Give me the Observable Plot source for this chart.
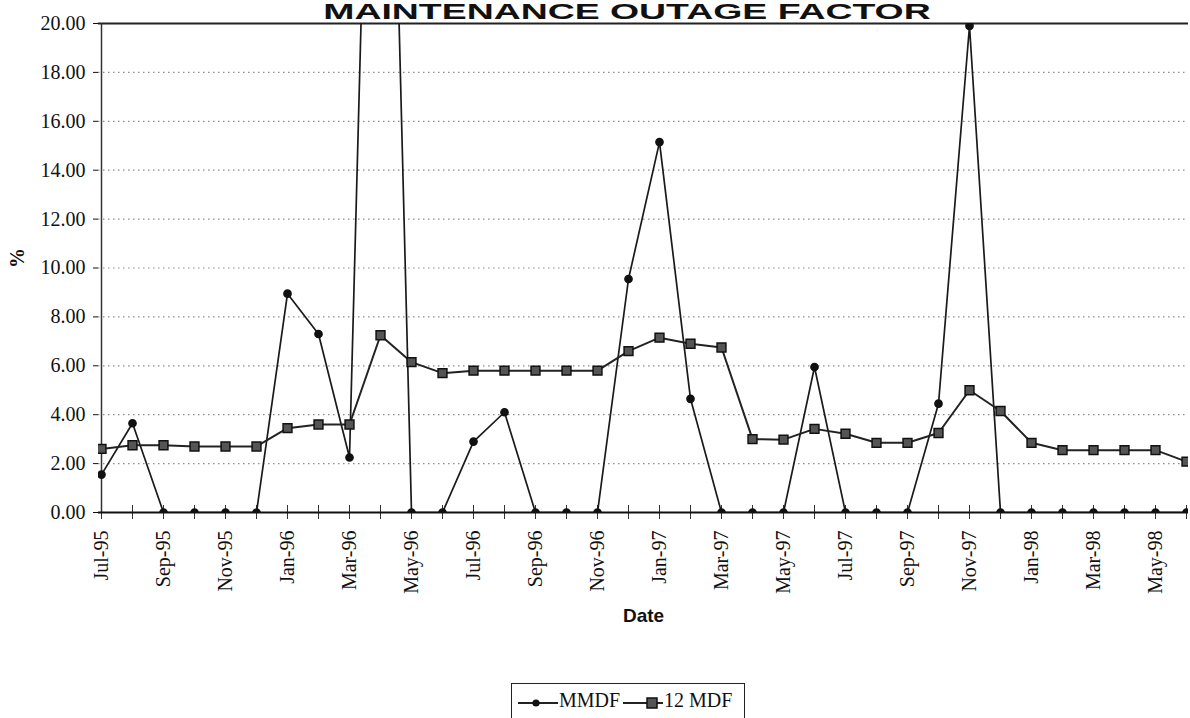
<!DOCTYPE html>
<html>
<head>
<meta charset="utf-8">
<script src="https://cdn.jsdelivr.net/npm/d3@7"></script>
<script src="https://cdn.jsdelivr.net/npm/@observablehq/plot@0.6"></script>
<style>
  html, body { margin: 0; padding: 0; background: #fff; overflow: hidden; }
  #wrap { position: relative; width: 1190px; height: 718px; }
  #title { position: absolute; left: 627px; top: 1px; transform: translateX(-50%) scaleX(1.7);
    font-family: "Liberation Sans", sans-serif; font-weight: bold; font-size: 22px; line-height: 22px;
    white-space: nowrap; color: #111; }
  #legend { position: absolute; left: 511px; top: 683px; width: 234px; height: 60px;
    border: 1.5px solid #222; box-sizing: border-box; font-family: "Liberation Serif", serif;
    font-size: 20px; color: #111; }
  #legend .item { position: absolute; top: 4px; display: flex; align-items: center; height: 24px; }
  #legend svg { display: block; }
</style>
</head>
<body>
<div id="wrap"></div>
<script>
const title = "MAINTENANCE OUTAGE FACTOR";
const months = ["Jul-95","Aug-95","Sep-95","Oct-95","Nov-95","Dec-95",
  "Jan-96","Feb-96","Mar-96","Apr-96","May-96","Jun-96","Jul-96","Aug-96","Sep-96","Oct-96","Nov-96","Dec-96",
  "Jan-97","Feb-97","Mar-97","Apr-97","May-97","Jun-97","Jul-97","Aug-97","Sep-97","Oct-97","Nov-97","Dec-97",
  "Jan-98","Feb-98","Mar-98","Apr-98","May-98","Jun-98"];
const mmdf = [1.55, 3.65, 0, 0, 0, 0, 8.95, 7.3, 2.25, 50, 0, 0, 2.9, 4.1, 0, 0, 0, 9.55,
  15.15, 4.65, 0, 0, 0, 5.95, 0, 0, 0, 4.45, 19.9, 0, 0, 0, 0, 0, 0, 0];
const mdf12 = [2.6, 2.75, 2.75, 2.7, 2.7, 2.7, 3.45, 3.6, 3.6, 7.25, 6.15, 5.7, 5.8, 5.8, 5.8, 5.8, 5.8, 6.6,
  7.15, 6.9, 6.75, 3.0, 2.98, 3.42, 3.22, 2.85, 2.85, 3.25, 5.0, 4.15, 2.85, 2.55, 2.55, 2.55, 2.55, 2.08];
const yTicks = [0, 2, 4, 6, 8, 10, 12, 14, 16, 18, 20];
const xLabels = months.filter((d, i) => i % 2 === 0);
const seriesNames = ["MMDF", "12 MDF"];

const rowsA = months.map((m, i) => ({month: m, value: mmdf[i]}));
const rowsB = months.map((m, i) => ({month: m, value: mdf12[i]}));

const chart = Plot.plot({
  width: 1190,
  height: 718,
  marginTop: 23,
  marginBottom: 206,
  marginLeft: 98,
  marginRight: 2,
  style: {fontFamily: "'Liberation Serif', serif", fontSize: "20px", color: "#111", background: "#fff", overflow: "visible"},
  x: {type: "point", domain: months, padding: 0},
  y: {domain: [0, 20]},
  marks: [
    Plot.gridY(yTicks.filter(d => d > 0 && d < 20), {stroke: "#666", strokeOpacity: 0.75, strokeDasharray: "1.5,3.5", strokeWidth: 1.2}),
    Plot.ruleY([20], {stroke: "#222", strokeWidth: 1.8}),
    Plot.ruleX([months[0]], {stroke: "#333", strokeWidth: 1.5}),
    Plot.axisY({ticks: yTicks, tickFormat: d => d.toFixed(2), tickSize: 5, tickPadding: 8, label: null, fontSize: 20}),
    Plot.axisX({ticks: months, tickFormat: () => "", tickSize: 14, dy: -7, label: null, stroke: "#333"}),
    Plot.axisX({ticks: xLabels, tickSize: 0, tickPadding: 18, tickRotate: -90, label: null, fontSize: 20}),
    Plot.ruleY([0], {stroke: "#111", strokeWidth: 1.8}),
    Plot.text(["%"], {frameAnchor: "left", dx: -81, rotate: -90, fontSize: 20, fontWeight: "bold", fill: "#111"}),
    Plot.text(["Date"], {frameAnchor: "bottom", dy: 109, lineAnchor: "bottom", fontFamily: "'Liberation Sans', sans-serif", fontWeight: "bold", fontSize: 19, fill: "#111"}),
    Plot.line(rowsA, {x: "month", y: "value", stroke: "#1a1a1a", strokeWidth: 1.7, clip: "frame"}),
    Plot.dot(rowsA, {x: "month", y: "value", symbol: "circle", r: 3.6, fill: "#111", stroke: "#111", clip: "frame"}),
    Plot.line(rowsB, {x: "month", y: "value", stroke: "#222", strokeWidth: 2, clip: "frame"}),
    Plot.dot(rowsB, {x: "month", y: "value", symbol: "square", r: 5, fill: "#555", stroke: "#111", strokeWidth: 1.5, clip: "frame"})
  ]
});
const wrap = document.getElementById("wrap");
wrap.appendChild(chart);

const t = document.createElement("div");
t.id = "title";
t.textContent = title;
wrap.appendChild(t);

// legend
const legend = document.createElement("div");
legend.id = "legend";
const swatch = (symbol) => {
  const s = d3.create("svg").attr("width", 40).attr("height", 24);
  s.append("line").attr("x1", 0).attr("x2", 40).attr("y1", 15).attr("y2", 15).attr("stroke", "#222").attr("stroke-width", 2);
  if (symbol === "circle") {
    s.append("circle").attr("cx", 18).attr("cy", 15).attr("r", 3.6).attr("fill", "#111");
  } else {
    s.append("rect").attr("x", 24).attr("y", 10).attr("width", 10).attr("height", 10).attr("fill", "#555").attr("stroke", "#111").attr("stroke-width", 1.5);
  }
  return s.node();
};
const items = [{name: seriesNames[0], sym: "circle", left: 6}, {name: seriesNames[1], sym: "square", left: 111}];
for (const it of items) {
  const d = document.createElement("div");
  d.className = "item";
  d.style.left = it.left + "px";
  d.appendChild(swatch(it.sym));
  const s = document.createElement("span");
  s.textContent = it.name;
  s.style.marginLeft = "1px";
  d.appendChild(s);
  legend.appendChild(d);
}
wrap.appendChild(legend);
</script>
</body>
</html>
